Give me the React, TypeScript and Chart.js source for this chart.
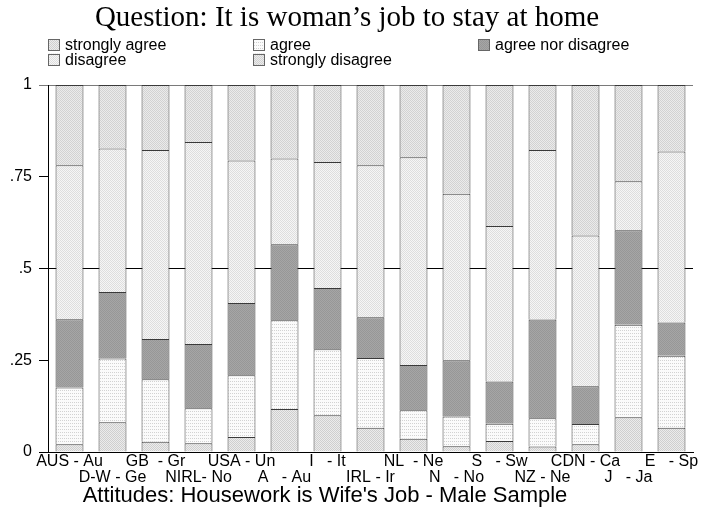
import React, { useEffect, useRef } from "react";
import { Chart, registerables } from "chart.js";

Chart.register(...registerables);

const titleText = "Question: It is woman\u2019s job to stay at home";
const captionText = "Attitudes: Housework is Wife's Job - Male Sample";

const countries = [
  "AUS - Au", "D-W - Ge", "GB  - Gr", "NIRL- No", "USA - Un",
  "A   - Au", "I   - It", "IRL - Ir", "NL  - Ne", "N   - No",
  "S   - Sw", "NZ - Ne", "CDN - Ca", "J   - Ja", "E   - Sp",
];

const seriesNames = ["strongly agree", "agree", "agree nor disagree", "disagree", "strongly disagree"];

const stronglyAgree = [0.021, 0.081, 0.028, 0.024, 0.041, 0.117, 0.100, 0.066, 0.036, 0.016, 0.030, 0.015, 0.021, 0.095, 0.066];
const agree = [0.155, 0.174, 0.170, 0.095, 0.168, 0.242, 0.180, 0.190, 0.078, 0.081, 0.047, 0.077, 0.055, 0.252, 0.196];
const neither = [0.186, 0.181, 0.110, 0.175, 0.197, 0.207, 0.167, 0.111, 0.123, 0.153, 0.115, 0.269, 0.103, 0.257, 0.091];
const disagree = [0.419, 0.391, 0.515, 0.551, 0.388, 0.234, 0.343, 0.414, 0.566, 0.454, 0.424, 0.462, 0.411, 0.134, 0.466];
const stronglyDisagree = [0.219, 0.173, 0.177, 0.155, 0.206, 0.200, 0.210, 0.219, 0.197, 0.296, 0.384, 0.177, 0.410, 0.262, 0.181];

const yTicks = [0, 0.25, 0.5, 0.75, 1];
const yTickLabels = ["0", ".25", ".5", ".75", "1"];

function makePattern(w: number, h: number, base: string, dot: string, cells: number[][]) {
  const tile = document.createElement("canvas");
  tile.width = w;
  tile.height = h;
  const t = tile.getContext("2d")!;
  t.fillStyle = base;
  t.fillRect(0, 0, w, h);
  t.fillStyle = dot;
  cells.forEach(([x, y]) => t.fillRect(x, y, 1, 1));
  const c = document.createElement("canvas").getContext("2d")!;
  return c.createPattern(tile, "repeat") as CanvasPattern;
}

export default function App() {
  const ref = useRef<HTMLCanvasElement | null>(null);

  useEffect(() => {
    document.body.style.margin = "0";
    const canvas = ref.current;
    if (!canvas) return;

    const strongPat = makePattern(2, 2, "#ececec", "#cfcfcf", [[0, 0], [1, 1]]);
    const agreePat = makePattern(2, 3, "#fbfbfb", "#d2d2d2", [[0, 0]]);
    const disagreePat = makePattern(2, 2, "#f6f6f6", "#dedede", [[0, 0], [1, 1]]);
    const neitherPat = makePattern(2, 2, "#a6a6a6", "#979797", [[0, 0], [1, 1]]);
    const strongDisPat = makePattern(2, 2, "#ebebeb", "#d2d2d2", [[0, 0], [1, 1]]);
    const fills = [strongPat, agreePat, neitherPat, disagreePat, strongDisPat];
    const series = [stronglyAgree, agree, neither, disagree, stronglyDisagree];

    const decor = {
      id: "decor",
      afterDraw(chart: any) {
        const ctx = chart.ctx as CanvasRenderingContext2D;
        ctx.save();
        ctx.fillStyle = "#000";
        ctx.font = '29px "Liberation Serif"';
        ctx.textAlign = "center";
        ctx.textBaseline = "alphabetic";
        ctx.fillText(titleText, 347, 26);

        ctx.font = '16px "Liberation Sans"';
        ctx.textAlign = "left";
        const cols = [48, 253, 478];
        seriesNames.forEach((name, i) => {
          const x = cols[i % 3];
          const y = 39 + Math.floor(i / 3) * 14.5;
          ctx.fillStyle = fills[i];
          ctx.fillRect(x, y, 12, 12);
          ctx.strokeStyle = "#666";
          ctx.lineWidth = 1;
          ctx.strokeRect(x + 0.5, Math.round(y) + 0.5, 11, 11);
          ctx.fillStyle = "#000";
          ctx.fillText(name, x + 17, y + 11);
        });

        ctx.font = '22px "Liberation Sans"';
        ctx.textAlign = "center";
        ctx.fillText(captionText, 325, 502);
        ctx.restore();
      },
    };

    const chart = new Chart(canvas, {
      type: "bar",
      data: {
        labels: countries,
        datasets: series.map((d, i) => ({
          label: seriesNames[i],
          data: d,
          backgroundColor: fills[i],
          borderColor: "#3a3a3a",
          borderWidth: 1,
          barPercentage: 0.65,
          categoryPercentage: 1,
        })),
      },
      options: {
        responsive: false,
        animation: false,
        devicePixelRatio: 1,
        layout: { padding: { top: 85, right: 8, left: 0, bottom: 0 } },
        plugins: {
          legend: { display: false },
          title: { display: false },
          tooltip: { enabled: false },
        },
        scales: {
          x: {
            stacked: true,
            offset: true,
            grid: { display: false, drawTicks: false },
            border: { display: true, color: "#000", width: 1 },
            ticks: {
              autoSkip: false,
              maxRotation: 0,
              minRotation: 0,
              padding: 2,
              color: "#000",
              font: { family: '"Liberation Sans"', size: 16, lineHeight: 1 },
              callback: (_v: any, i: number) => (i % 2 === 0 ? [countries[i], ""] : ["", countries[i]]),
            },
            afterFit: (s: any) => {
              s.height = 58;
            },
          },
          y: {
            stacked: true,
            min: 0,
            max: 1,
            afterBuildTicks: (s: any) => {
              s.ticks = yTicks.map((v) => ({ value: v }));
            },
            ticks: {
              padding: 7,
              color: "#000",
              font: { family: '"Liberation Sans"', size: 16 },
              callback: (v: any) => yTickLabels[yTicks.indexOf(Number(v))],
            },
            grid: {
              color: (c: any) =>
                c.tick && c.tick.value === 0.5 ? "#000" : c.tick && c.tick.value === 1 ? "#7a7a7a" : "rgba(0,0,0,0)",
              tickColor: (c: any) => (c.tick && c.tick.value === 1 ? "#7a7a7a" : "#000"),
              tickLength: 9,
              lineWidth: 1,
            },
            border: { display: true, color: "#000", width: 1 },
            afterFit: (s: any) => {
              s.width = 48;
            },
          },
        },
      },
      plugins: [decor],
    });

    return () => chart.destroy();
  }, []);

  return (
    <div style={{ width: 701, height: 510 }}>
      <canvas ref={ref} width={701} height={510} style={{ display: "block" }} />
    </div>
  );
}
